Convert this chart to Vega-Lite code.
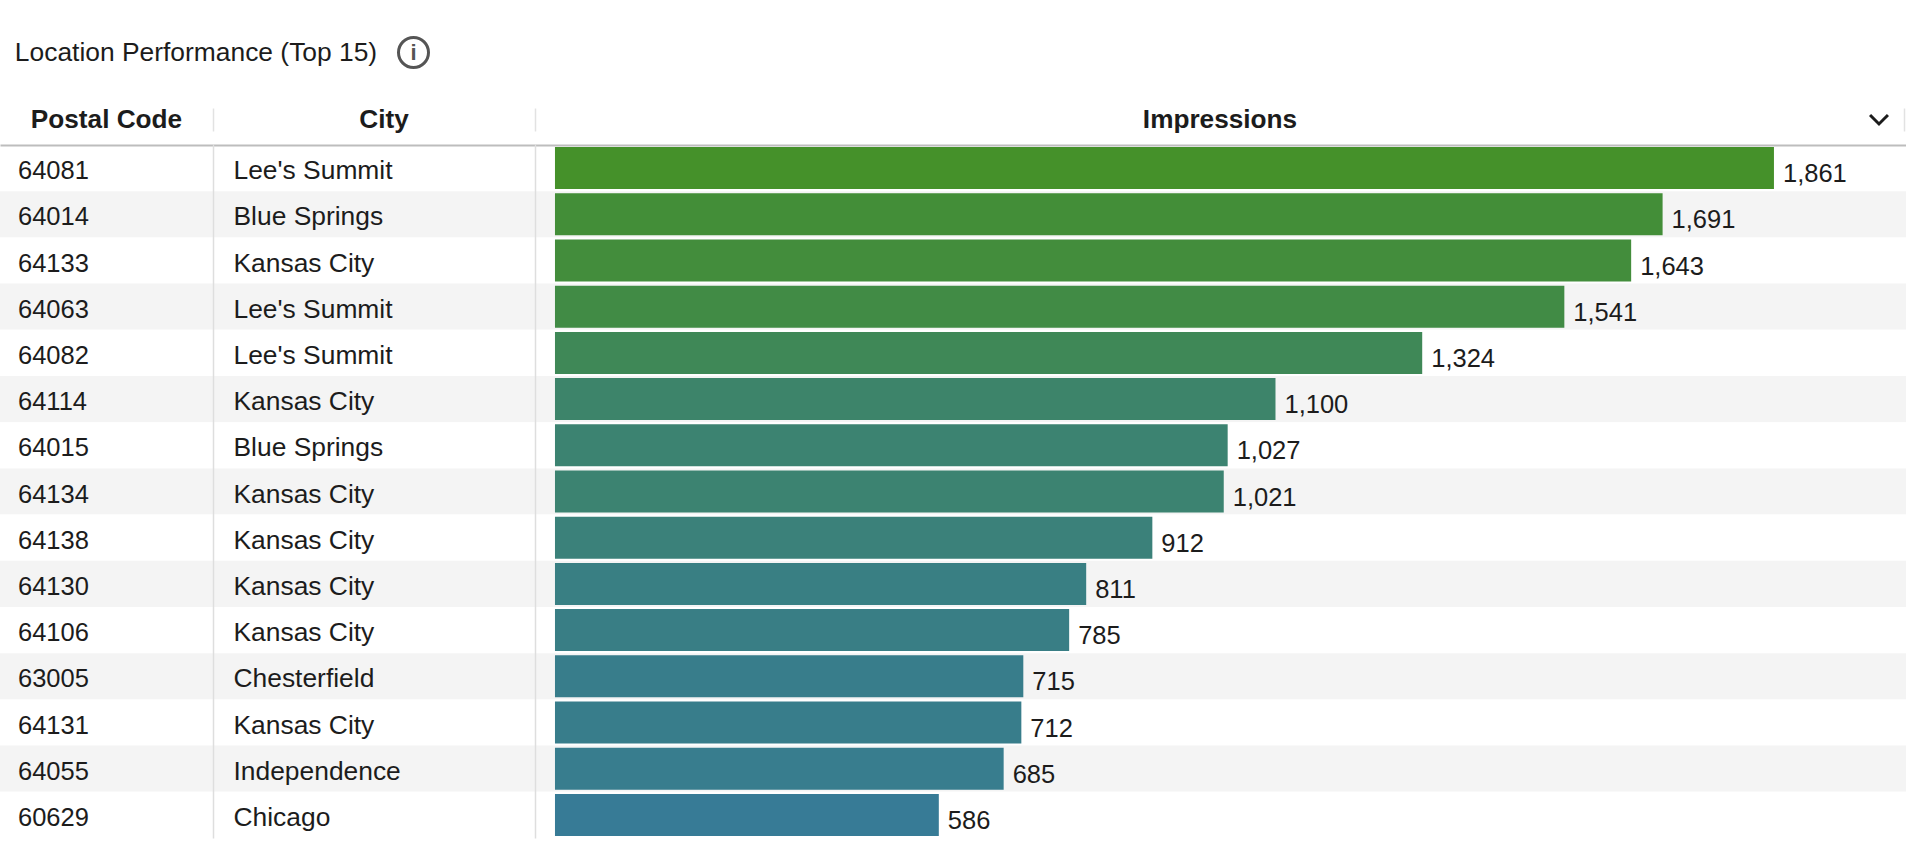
{
"$schema":"https://vega.github.io/schema/vega-lite/v6.json",
"padding":{"top":31,"left":0,"right":0,"bottom":0},
"background":"#ffffff",
"autosize":{"type":"pad"},
"config":{"view":{"stroke":null},"text":{"font":"Liberation Sans","color":"#1c1c1c"}},
"datasets":{"rows":[
{"rank":1,"postal":"64081","city":"Lee's Summit","impressions":1861},
{"rank":2,"postal":"64014","city":"Blue Springs","impressions":1691},
{"rank":3,"postal":"64133","city":"Kansas City","impressions":1643},
{"rank":4,"postal":"64063","city":"Lee's Summit","impressions":1541},
{"rank":5,"postal":"64082","city":"Lee's Summit","impressions":1324},
{"rank":6,"postal":"64114","city":"Kansas City","impressions":1100},
{"rank":7,"postal":"64015","city":"Blue Springs","impressions":1027},
{"rank":8,"postal":"64134","city":"Kansas City","impressions":1021},
{"rank":9,"postal":"64138","city":"Kansas City","impressions":912},
{"rank":10,"postal":"64130","city":"Kansas City","impressions":811},
{"rank":11,"postal":"64106","city":"Kansas City","impressions":785},
{"rank":12,"postal":"63005","city":"Chesterfield","impressions":715},
{"rank":13,"postal":"64131","city":"Kansas City","impressions":712},
{"rank":14,"postal":"64055","city":"Independence","impressions":685},
{"rank":15,"postal":"60629","city":"Chicago","impressions":586}
]},
"spacing":12,
"bounds":"full",
"vconcat":[
{"hconcat":[
 {"width":394,"height":58,"data":{"values":[{"title":"Location Performance (Top 15)"}]},
  "mark":{"type":"text","fontSize":26.4,"color":"#1c1c1c","dy":-12.5,"dx":-1},
  "encoding":{"text":{"field":"title"}}},
 {"width":33,"height":58,"data":{"values":[{"icon":"i"}]},
  "layer":[
   {"mark":{"type":"point","shape":"circle","size":900,"filled":false,"stroke":"#555555","strokeWidth":3,"opacity":1,"yOffset":-12.5},"encoding":{}},
   {"mark":{"type":"text","fontSize":22,"fontWeight":"bold","color":"#555555","dy":-12.5},"encoding":{"text":{"field":"icon"}}}
  ]}
 ],"spacing":3,"bounds":"flush"},
 {"hconcat":[
  {"width":213,"height":23,"data":{"values":[{"column":"Postal Code"}]},
   "mark":{"type":"text","fontSize":26.2,"fontWeight":"bold"},
   "encoding":{"text":{"field":"column"},"y":{"field":"column","type":"nominal","axis":null}}},
  {"width":322,"height":23,"data":{"values":[{"column":"City"}]},
   "mark":{"type":"text","fontSize":26.2,"fontWeight":"bold","dx":10},
   "encoding":{"text":{"field":"column"},"y":{"field":"column","type":"nominal","axis":{"title":null,"labels":false,"ticks":false,"domainColor":"#e2e2e2","domainWidth":1.5}}}},
  {"width":1319,"height":23,"data":{"values":[{"column":"Impressions"}]},
   "mark":{"type":"text","fontSize":26.2,"fontWeight":"bold","dx":25.5},
   "encoding":{"text":{"field":"column"},"y":{"field":"column","type":"nominal","axis":{"title":null,"labels":false,"ticks":false,"domainColor":"#e2e2e2","domainWidth":1.5}}}},
  {"width":50,"height":23,"data":{"values":[{"column":"sort"}]},
   "mark":{"type":"point","shape":"M -1 -0.5 L 0 0.5 L 1 -0.5","size":320,"filled":false,"stroke":"#1c1c1c","strokeWidth":3,"opacity":1},
   "encoding":{}},
  {"width":2,"height":23,"data":{"values":[{"column":""}]},
   "mark":{"type":"text"},
   "encoding":{"text":{"field":"column"},"y":{"field":"column","type":"nominal","axis":{"title":null,"labels":false,"ticks":false,"domainColor":"#e2e2e2","domainWidth":1.5}}}}
 ],"spacing":0,"bounds":"flush"},
 {"hconcat":[
  {"width":213,"height":693,"data":{"name":"rows"},
   "encoding":{"y":{"field":"postal","type":"nominal","sort":null,"scale":{"padding":0},"axis":null}},
   "layer":[
    {"mark":{"type":"rect"},"encoding":{"fill":{"condition":{"test":"datum.rank % 2 == 0","value":"#f4f4f4"},"value":"#ffffff"}}},
    {"mark":{"type":"text","align":"left","fontSize":25.5,"dx":18,"dy":3},
     "encoding":{"x":{"datum":0,"type":"quantitative","scale":{"domain":[0,1]},"axis":{"orient":"top","title":null,"labels":false,"ticks":false,"grid":false,"domainColor":"#bdbdbd","domainWidth":2,"zindex":1}},"text":{"field":"postal"}}}
   ]},
  {"width":322,"height":693,"data":{"name":"rows"},
   "encoding":{"y":{"field":"postal","type":"nominal","sort":null,"scale":{"padding":0},"axis":{"title":null,"labels":false,"ticks":false,"domainColor":"#dedede","domainWidth":1.5,"zindex":1}}},
   "layer":[
    {"mark":{"type":"rect"},"encoding":{"fill":{"condition":{"test":"datum.rank % 2 == 0","value":"#f4f4f4"},"value":"#ffffff"}}},
    {"mark":{"type":"text","align":"left","fontSize":26.4,"dx":20.5,"dy":3},
     "encoding":{"x":{"datum":0,"type":"quantitative","scale":{"domain":[0,1]},"axis":{"orient":"top","title":null,"labels":false,"ticks":false,"grid":false,"domainColor":"#bdbdbd","domainWidth":2,"zindex":1}},"text":{"field":"city"}}}
   ]},
  {"width":1371,"height":693,"data":{"name":"rows"},
   "encoding":{"y":{"field":"postal","type":"nominal","sort":null,"scale":{"padding":0},"axis":{"title":null,"labels":false,"ticks":false,"domainColor":"#dedede","domainWidth":1.5,"zindex":1}}},
   "layer":[
    {"mark":{"type":"rect"},"encoding":{"fill":{"condition":{"test":"datum.rank % 2 == 0","value":"#f4f4f4"},"value":"#ffffff"}}},
    {"mark":{"type":"bar","height":{"band":0.91}},
     "encoding":{"x":{"field":"impressions","type":"quantitative","scale":{"domain":[-30.5,2062.6],"nice":false,"zero":false},"axis":{"orient":"top","title":null,"labels":false,"ticks":false,"grid":false,"domainColor":"#bdbdbd","domainWidth":2,"zindex":1}},
      "color":{"field":"impressions","type":"quantitative","scale":{"domain":[586,1861],"range":["#377b96","#45912a"],"interpolate":"rgb"},"legend":null}}},
    {"mark":{"type":"text","align":"left","fontSize":25.5,"dx":9,"dy":6},
     "encoding":{"x":{"field":"impressions","type":"quantitative"},"text":{"field":"impressions","type":"quantitative","format":","}}}
   ]}
 ],"spacing":0,"bounds":"flush"}
]
}
